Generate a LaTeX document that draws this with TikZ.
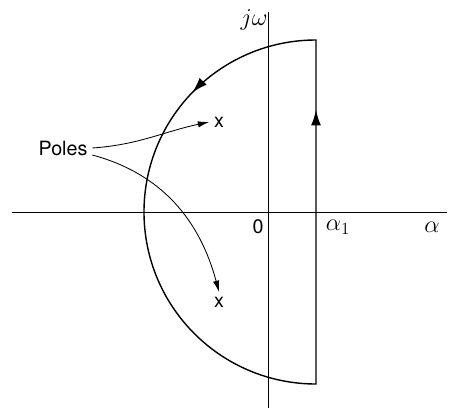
\documentclass[tikz,border=0pt]{standalone}
\usepackage{fontspec}
\setsansfont{TeX Gyre Heros}
\usetikzlibrary{arrows.meta,decorations.markings}
\begin{document}
\begin{tikzpicture}[x=0.025cm,y=0.025cm,font=\sffamily\fontsize{14}{16}\selectfont,
    axis/.style={line width=0.6pt},
    contour/.style={line width=1pt,postaction=decorate,
      decoration={markings,
        mark=at position 0.31 with {\arrow{Latex[length=11pt,width=7pt]}},
        mark=at position 0.545 with {\arrow{Latex[length=11pt,width=7pt]}}}},
    pointer/.style={line width=0.6pt,-{Latex[length=8pt,width=4.5pt]}},
    mlabel/.style={font=\sffamily\fontsize{17}{19}\selectfont}]
    \def\rad{172}
    \def\aone{48}
    \useasboundingbox (-268,-196) rectangle (192,212);
    % Axes
    \draw[axis] (-256,0) -- (179,0);
    \draw[axis] (0,-196) -- (0,200);
    % Contour
    \draw[contour] (\aone,-\rad) -- (\aone,\rad) arc[start angle=90,end angle=270,radius=\rad] -- cycle;
    % Poles
    \node (p1) at (-49,90) {x};
    \node (p2) at (-49,-90) {x};
    \node (poles) at (-205,64) {Poles};
    \draw[pointer] (poles.east) to[out=4,in=192] (p1.west);
    \draw[pointer] ([yshift=-5pt]poles.east) to[out=-15,in=105] (p2.north);
    % Labels
    \node[mlabel] (jw) at (-14,192) {$j\omega$};
    \node (org) at (-10,-15) {0};
    \node[mlabel] (a1) at (70,-15) {$\alpha_1$};
    \node[mlabel] (al) at (164,-15) {$\alpha$};
\end{tikzpicture}
\end{document}
